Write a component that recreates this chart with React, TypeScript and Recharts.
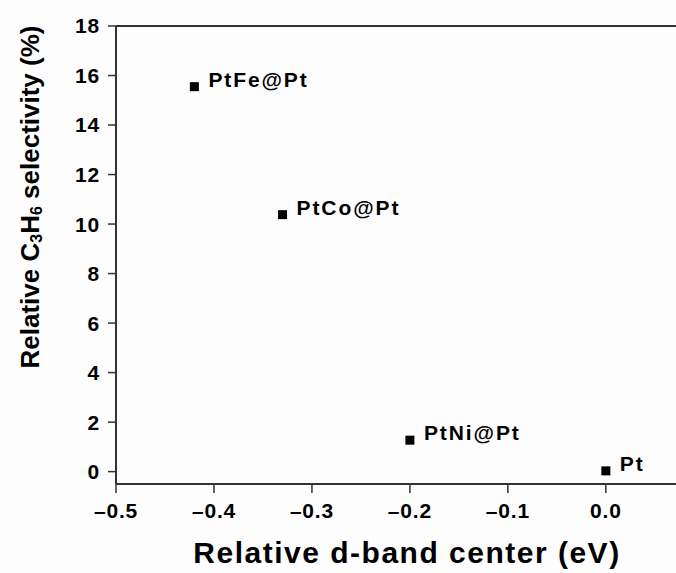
import React from "react";
import { ReferenceLine, Scatter, ScatterChart, XAxis, YAxis } from "recharts";

const names = ["PtFe@Pt", "PtCo@Pt", "PtNi@Pt", "Pt"];
const dBandCenter = [-0.42, -0.33, -0.2, 0.0];
const selectivity = [15.55, 10.38, 1.27, 0.03];
const xTicks = [-0.5, -0.4, -0.3, -0.2, -0.1, 0.0];
const yTicks = [0, 2, 4, 6, 8, 10, 12, 14, 16, 18];

const data = names.map((name, i) => ({ name, x: dBandCenter[i], y: selectivity[i] }));

const font = "'Liberation Sans', Arial, Helvetica, sans-serif";
const ink = "#000";
const axisColor = "#333";
const tickStyle = { fill: ink, fontFamily: font, fontWeight: 700, fontSize: 21, letterSpacing: 0.8 };

const fmtX = (v: number) => (v < 0 ? "\u2013" + Math.abs(v).toFixed(1) : v.toFixed(1));

function Marker(props: any) {
  const { cx, cy, payload } = props;
  if (cx == null || cy == null) return null;
  return (
    <g>
      <rect x={cx - 4.5} y={cy - 4.5} width={9} height={9} fill={ink} />
      <text x={cx + 14} y={cy} fill={ink} fontFamily={font} fontWeight={700} fontSize={21} letterSpacing={1.9}>
        {payload.name}
      </text>
    </g>
  );
}

function XTitle(props: any) {
  const vb = props.viewBox || { x: 116, y: 484, width: 560, height: 89 };
  return (
    <text
      x={vb.x + vb.width / 2 + 11}
      y={vb.y + vb.height - 10}
      textAnchor="middle"
      fill={ink}
      fontFamily={font}
      fontWeight={700}
      fontSize={30}
      letterSpacing={1.5}
    >
      Relative d-band center (eV)
    </text>
  );
}

function YTitle(props: any) {
  const vb = props.viewBox || { x: 0, y: 26, width: 116, height: 458 };
  const x = vb.x + 39;
  const y = vb.y + vb.height / 2 - 58;
  return (
    <text
      x={x}
      y={y}
      transform={`rotate(-90 ${x} ${y})`}
      textAnchor="middle"
      fill={ink}
      fontFamily={font}
      fontWeight={700}
      fontSize={26}
    >
      Relative C
      <tspan fontSize={16} dy={3}>3</tspan>
      <tspan dy={-3}>H</tspan>
      <tspan fontSize={16} dy={3}>6</tspan>
      <tspan dy={-3}> selectivity (%)</tspan>
    </text>
  );
}

export default function App() {
  return (
    <div style={{ position: "absolute", left: 0, top: 0, width: 676, height: 573, background: "#fdfdfd" }}>
      <ScatterChart width={676} height={573} margin={{ top: 26, right: 0, bottom: 0, left: 0 }}>
        <XAxis
          type="number"
          dataKey="x"
          domain={[-0.5, 0.0716]}
          ticks={xTicks}
          tickFormatter={fmtX}
          height={89}
          tickSize={9}
          tickMargin={10}
          tick={tickStyle}
          axisLine={{ stroke: axisColor, strokeWidth: 2 }}
          tickLine={{ stroke: axisColor, strokeWidth: 1.5 }}
          allowDataOverflow
          label={<XTitle />}
        />
        <YAxis
          type="number"
          dataKey="y"
          domain={[-0.5, 18]}
          ticks={yTicks}
          width={116}
          tickSize={8}
          tickMargin={8}
          tick={tickStyle}
          axisLine={{ stroke: axisColor, strokeWidth: 2 }}
          tickLine={{ stroke: axisColor, strokeWidth: 1.5 }}
          allowDataOverflow
          label={<YTitle />}
        />
        <ReferenceLine y={18} stroke={axisColor} strokeWidth={2} />
        <Scatter data={data} shape={<Marker />} isAnimationActive={false} />
      </ScatterChart>
    </div>
  );
}
